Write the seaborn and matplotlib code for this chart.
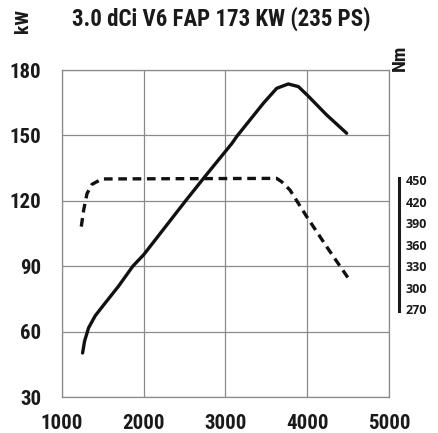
import matplotlib
matplotlib.use("Agg")
import matplotlib.pyplot as plt
from matplotlib import font_manager
import seaborn as sns
import pandas as pd

# Leistungskurve (kW) und Drehmoment (Nm)
power_rpm = [1252, 1276, 1325, 1407, 1528, 1691, 1866, 2000, 2512, 2748, 3080, 3137, 3462, 3626, 3768, 3891, 4000, 4237, 4482]
power_kw = [50.2, 55.6, 61.7, 67.3, 73.1, 80.8, 90, 95.3, 120, 131.1, 146.4, 149.5, 164.7, 171.6, 173.6, 172.4, 168.5, 159.4, 151]

torque_rpm = [1236, 1265, 1306, 1367, 1489, 3626, 3687, 3789, 3993, 4237, 4502]
torque_nm = [385, 408, 431, 444, 451.5, 452.3, 447.6, 436, 399, 357, 313]

x_ticks = [1000, 2000, 3000, 4000, 5000]
kw_ticks = [30, 60, 90, 120, 150, 180]
nm_ticks = [270, 300, 330, 360, 390, 420, 450]

title = "3.0 dCi V6 FAP 173 KW (235 PS)"

sns.set_style("white")

# schmale Schrift suchen, falls vorhanden
installed = {f.name for f in font_manager.fontManager.ttflist}
narrow = "DejaVu Sans"
for cand in ["Liberation Sans Narrow", "Roboto Condensed", "Open Sans Condensed",
             "DejaVu Sans Condensed", "Arial Narrow", "Noto Sans Condensed"]:
    if cand in installed:
        narrow = cand
        break
plt.rcParams["font.family"] = [narrow, "DejaVu Sans"]
scale = 1.0 if narrow != "DejaVu Sans" else 0.85

fig = plt.figure(figsize=(4.39, 4.33), dpi=100)
ax = fig.add_axes([0.1412, 0.0831, 0.7449, 0.7552])

df_p = pd.DataFrame({"rpm": power_rpm, "kw": power_kw})
df_t = pd.DataFrame({"rpm": torque_rpm, "nm": torque_nm})

sns.lineplot(data=df_p, x="rpm", y="kw", ax=ax, color="#111111", linewidth=2.4,
             sort=False, estimator=None)
ax.lines[0].set_solid_joinstyle("round")
ax.set_xlim(1000, 5000)
ax.set_ylim(30, 180)
ax.set_xticks(x_ticks)
ax.set_yticks(kw_ticks)
ax.grid(True, color="#8a8a8a", linewidth=0.9)
ax.set_axisbelow(True)
for s in ax.spines.values():
    s.set_color("#8a8a8a")
    s.set_linewidth(0.9)
ax.tick_params(length=0, labelsize=15 * scale, pad=15)
ax.tick_params(axis="x", pad=12)
for lab in ax.get_xticklabels() + ax.get_yticklabels():
    lab.set_fontweight("bold")
    lab.set_color("#1a1a1a")
ax.set_xlabel("")
ax.set_ylabel("")

ax2 = ax.twinx()
sns.lineplot(data=df_t, x="rpm", y="nm", ax=ax2, color="#111111", linewidth=2.4,
             sort=False, estimator=None)
ax2.lines[0].set_linestyle((0, (2.6, 1.7)))
ax2.set_ylim(147.2, 603.5)
ax2.set_yticks(nm_ticks)
ax2.set_ylabel("")
for side in ["top", "left", "bottom"]:
    ax2.spines[side].set_visible(False)
ax2.spines["right"].set_position(("outward", 7))
ax2.spines["right"].set_bounds(267, 453)
ax2.spines["right"].set_linewidth(2.2)
ax2.spines["right"].set_color("#1a1a1a")
ax2.tick_params(length=0, labelsize=9, pad=5)
for lab in ax2.get_yticklabels():
    lab.set_fontweight("bold")
    lab.set_family(["Open Sans", "DejaVu Sans"])
    lab.set_color("#1a1a1a")

fig.text(72 / 439, 1 - 19 / 433, title, fontsize=16.5 * scale, fontweight="bold",
         ha="left", va="center", color="#1a1a1a")
fig.text(23 / 439, 1 - 21 / 433, "kW", fontsize=14 * scale, fontweight="bold",
         rotation=90, ha="center", va="center", color="#1a1a1a")
fig.text(400 / 439, 1 - 58 / 433, "Nm", fontsize=14 * scale, fontweight="bold",
         rotation=90, ha="center", va="center", color="#1a1a1a")

fig.savefig("out.png", dpi=100)
